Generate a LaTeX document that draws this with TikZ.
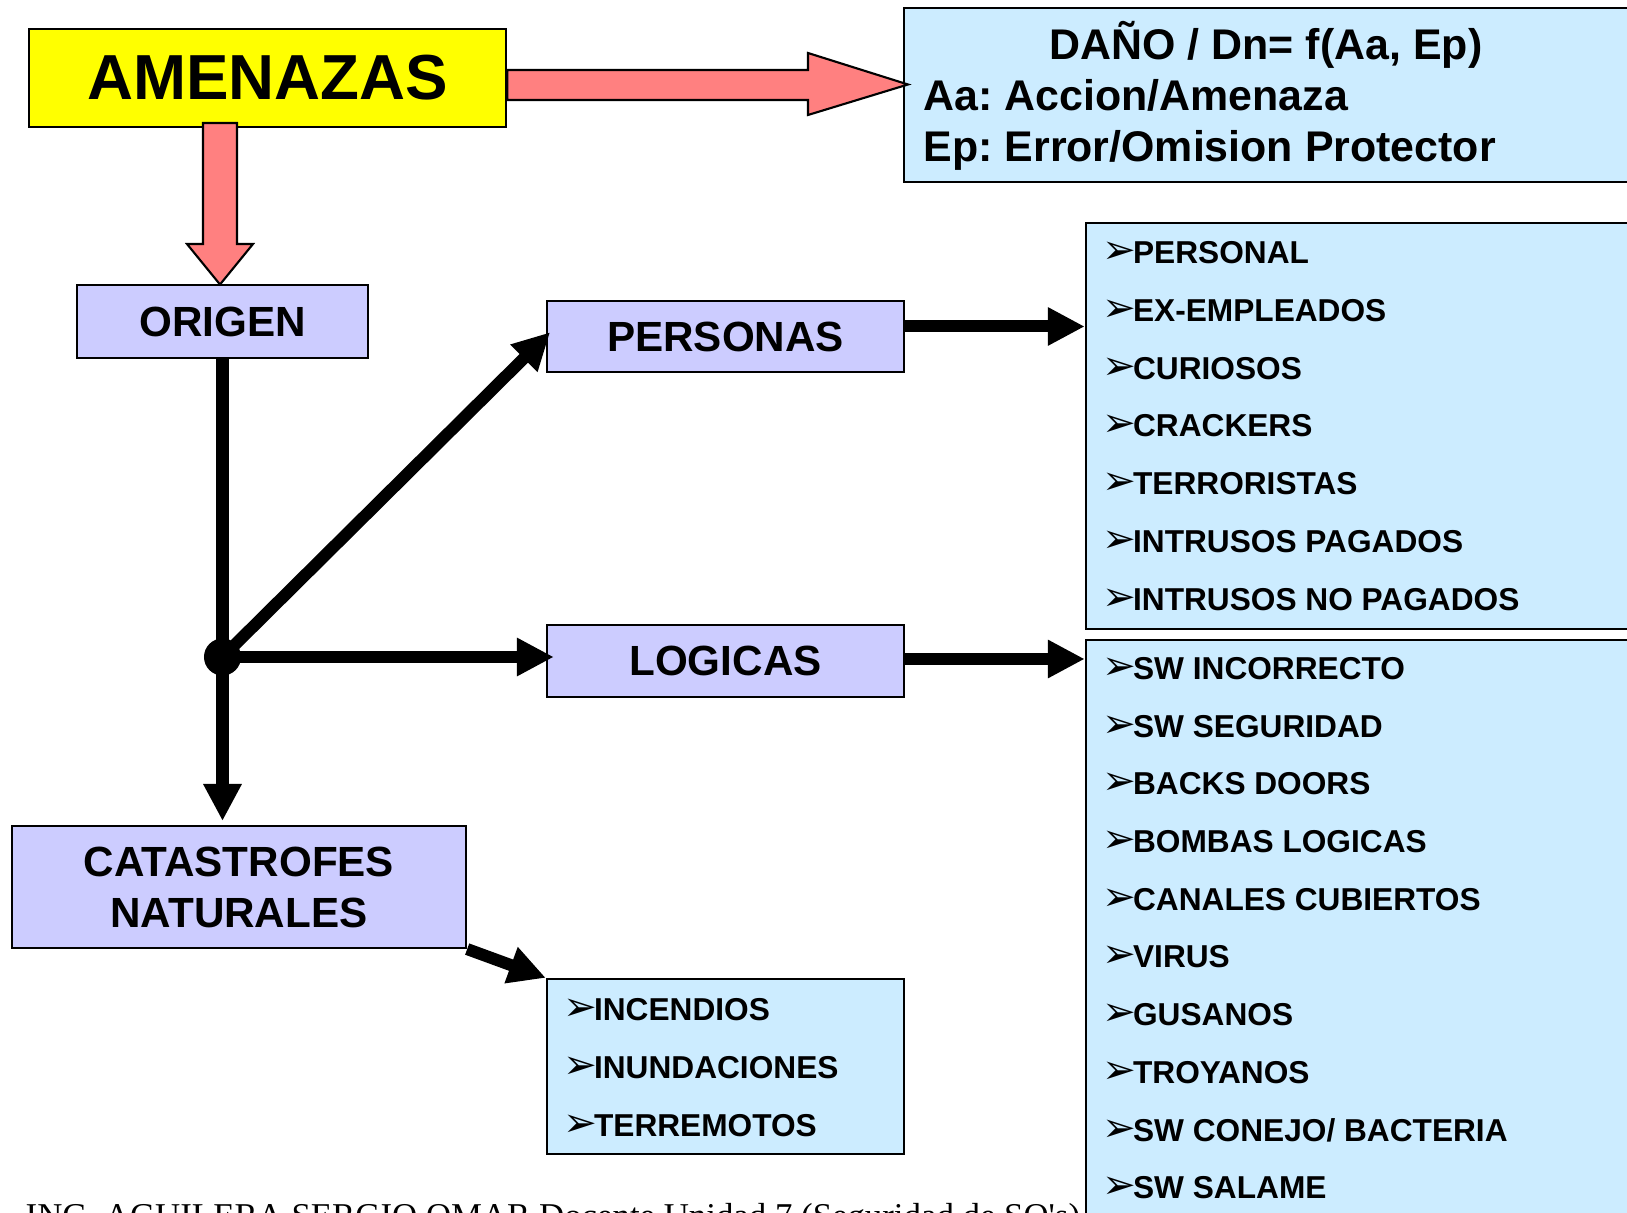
\documentclass[tikz,border=0pt]{standalone}
\usepackage{fontspec}
\setmainfont{Liberation Sans}
\newfontfamily\dejavu{DejaVu Sans}
\newfontfamily\pieletra{Liberation Serif}
\usepackage{tikz}
\usetikzlibrary{arrows.meta}
\frenchspacing

\definecolor{amarillo}{RGB}{255,255,0}
\definecolor{lila}{RGB}{204,204,255}
\definecolor{celeste}{RGB}{204,236,255}
\definecolor{rosa}{RGB}{255,128,128}
\newcommand{\vin}{{\dejavu\fontsize{11.5}{11.5}\selectfont ➢}\kern-0.035cm}

\begin{document}
\begin{tikzpicture}[x=0.01cm, y=-0.01cm,
	caja/.style={rectangle, draw=black, line width=0.6pt, inner sep=0pt, fill=lila, font=\fontsize{12}{14.5}\selectfont\bfseries, align=center},
	lista/.style={rectangle, draw=black, line width=0.6pt, inner sep=0pt, fill=celeste},
	item/.style={anchor=base west, inner sep=0pt, font=\fontsize{9}{11}\selectfont\bfseries},
	dtexto/.style={anchor=base west, inner sep=0pt, font=\fontsize{12.2}{15}\selectfont\bfseries},
	flecharosa/.style={draw=black, line width=0.6pt, fill=rosa, line join=miter},
	flechanegra/.style={draw=black, line width=0.12cm, -{Triangle[length=0.37cm, width=0.36cm]}},
	pie/.style={anchor=base west, inner sep=0pt, font=\pieletra\fontsize{9.9}{12}\selectfont}]
				\useasboundingbox (0,0) rectangle (1627,1213);
				\clip (0,0) rectangle (1627,1213);
				
				\node[caja, fill=amarillo, minimum width=4.77cm, minimum height=0.98cm, font=\fontsize{18.1}{20}\selectfont\bfseries] (amenazas) at (267.5,78){AMENAZAS};
				\node[lista, minimum width=7.96cm, minimum height=1.74cm] (dano) at (1302,95){};
				\node[dtexto, anchor=base] (danotit) at (1266,60){DAÑO / Dn= f(Aa, Ep)};
				\node[dtexto] (danoaa) at (923,111){Aa: Accion/Amenaza};
				\node[dtexto] (danoep) at (923,162){Ep: Error/Omision Protector};
				
				\node[caja, minimum width=2.91cm, minimum height=0.73cm] (origen) at (222.5,321.5){ORIGEN};
				\node[caja, minimum width=3.57cm, minimum height=0.71cm] (personas) at (725.5,336.5){PERSONAS};
				\node[caja, minimum width=3.57cm, minimum height=0.72cm] (logicas) at (725.5,661){LOGICAS};
				\node[caja, minimum width=4.54cm, minimum height=1.22cm] (catastrofes) at (239,887){CATASTROFES\\NATURALES};
				
				\node[lista, minimum width=3.57cm, minimum height=1.75cm] (naturales) at (725.5,1066.5){};
				\node[item] (incendios) at (563,1020){\vin INCENDIOS};
				\node[item] (inundaciones) at (563,1078){\vin INUNDACIONES};
				\node[item] (terremotos) at (563,1136){\vin TERREMOTOS};
				
				\node[lista, minimum width=6.14cm, minimum height=4.06cm] (humanas) at (1393,426){};
				\node[item] (personal) at (1102,263.5){\vin PERSONAL};
				\node[item] (exempleados) at (1102,321.3){\vin EX-EMPLEADOS};
				\node[item] (curiosos) at (1102,379.1){\vin CURIOSOS};
				\node[item] (crackers) at (1102,436.9){\vin CRACKERS};
				\node[item] (terroristas) at (1102,494.7){\vin TERRORISTAS};
				\node[item] (pagados) at (1102,552.5){\vin INTRUSOS PAGADOS};
				\node[item] (nopagados) at (1102,610.3){\vin INTRUSOS NO PAGADOS};
				
				\node[lista, minimum width=6.14cm, minimum height=6.60cm] (software) at (1393,970){};
				\node[item] (incorrecto) at (1102,679.4){\vin SW INCORRECTO};
				\node[item] (seguridad) at (1102,737.1){\vin SW SEGURIDAD};
				\node[item] (backs) at (1102,794.8){\vin BACKS DOORS};
				\node[item] (bombas) at (1102,852.5){\vin BOMBAS LOGICAS};
				\node[item] (canales) at (1102,910.2){\vin CANALES CUBIERTOS};
				\node[item] (virus) at (1102,967.9){\vin VIRUS};
				\node[item] (gusanos) at (1102,1025.6){\vin GUSANOS};
				\node[item] (troyanos) at (1102,1083.3){\vin TROYANOS};
				\node[item] (conejo) at (1102,1141){\vin SW CONEJO/ BACTERIA};
				\node[item] (salame) at (1102,1198.7){\vin SW SALAME};
				
				\coordinate (puntaDano) at (908,84.5);
				\coordinate (puntaOrigen) at (220,284.5);
				\draw[flecharosa] (amenazas.east |- 0,70) -- (808,70) -- (808,53) -- (puntaDano) -- (808,115) -- (808,100) -- (amenazas.east |- 0,100) -- cycle;
				\draw[flecharosa] (203,123) -- (203,244) -- (187,244) -- (puntaOrigen) -- (253,244) -- (237,244) -- (237,123) -- cycle;
				
				\node[circle, fill=black, inner sep=0pt, minimum size=0.37cm] (punto) at (222.5,657){};
				\coordinate (puntaCat) at (origen.south |- 0,821);
				\draw[flechanegra] (origen.south) -- (puntaCat);
				\draw[flechanegra, shorten >=-0.06cm] (punto.center) -- (personas.west);
				\draw[flechanegra, shorten >=-0.08cm] (punto.center) -- (punto -| logicas.west);
				\draw[flechanegra] ([yshift=0.1cm]personas.east) -- ([yshift=0.1cm]personas.east -| humanas.west);
				\draw[flechanegra] ([yshift=0.02cm]logicas.east) -- ([yshift=0.02cm]logicas.east -| software.west);
				\draw[flechanegra] (catastrofes.south east) -- (naturales.north west);
				
				\node[pie] (pieautor) at (25,1227){ING. AGUILERA SERGIO OMAR Docente Unidad 7 (Seguridad de SO's)};
\end{tikzpicture}
\end{document}
